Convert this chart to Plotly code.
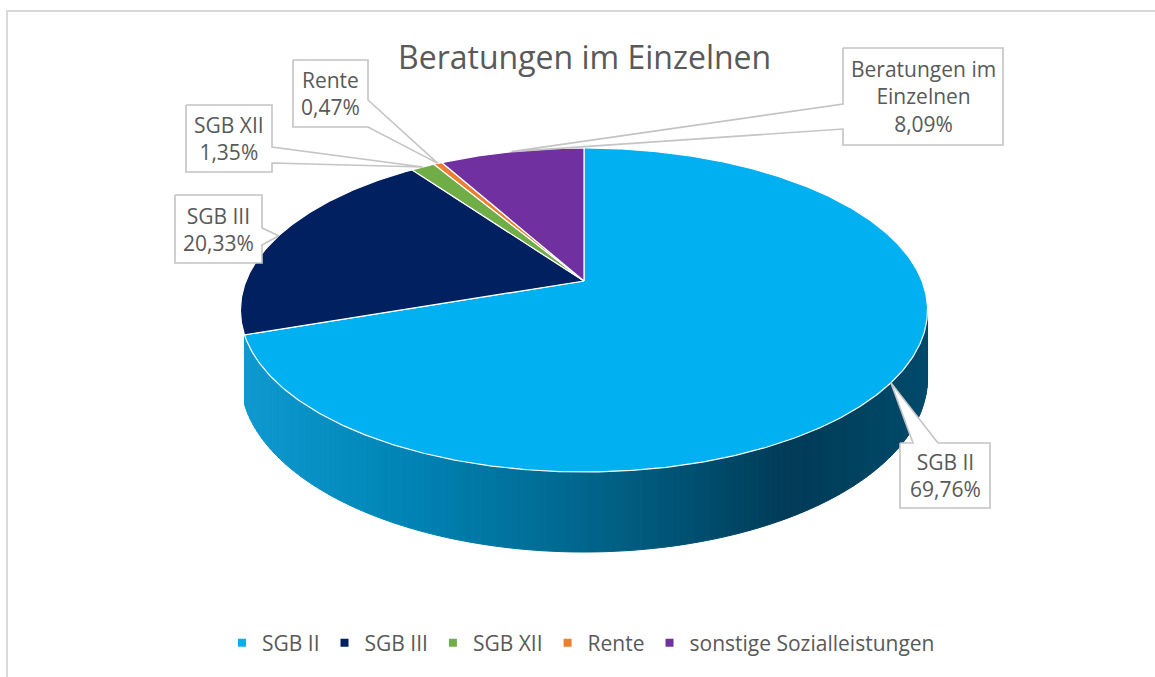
import numpy as np
import plotly.graph_objects as go

# ---------------- data ----------------
categories = ["SGB II", "SGB III", "SGB XII", "Rente", "sonstige Sozialleistungen"]
shares = [69.76, 20.33, 1.35, 0.47, 8.09]
label_titles = ["SGB II", "SGB III", "SGB XII", "Rente", "Beratungen im<br>Einzelnen"]
share_texts = ["69,76%", "20,33%", "1,35%", "0,47%", "8,09%"]
colors = ["#00B0F0", "#002060", "#70AD47", "#ED7D31", "#7030A0"]
side_colors = [None, "#00163F", "#4E7A31", "#A65722", "#4E2170"]
chart_title = "Beratungen im Einzelnen"

# ---------------- geometry (perspective projection of the disc) ----------------
W, H = 1155, 677
CX = 584.0
A_, B_, C_, K_ = 281.0, -106.5, 0.179, 338.0
DEPTH = 65.7
TXT = "#595959"
FONT = "Open Sans"


def proj(theta_deg, drop=0.0):
    t = np.radians(theta_deg)
    u, v = np.sin(t), np.cos(t)
    den = 1 + C_ * v
    return CX + K_ * u / den, (A_ + B_ * v + drop) / den


total = float(sum(shares))
cum = np.concatenate([[0.0], np.cumsum(shares)]) / total * 360.0
starts, ends = cum[:-1], cum[1:]
mids = (starts + ends) / 2

fig = go.Figure()

# ---------------- side wall ----------------
ths = np.linspace(0, 360, 3601)
xs_all, _ = proj(ths)
th_right = ths[np.argmax(xs_all)]
th_left = min(ths[np.argmin(xs_all)], ends[0])
xmin, xmax = xs_all.min(), xs_all.max()

stops = [(0.0, (14, 154, 208)), (0.25, (0, 131, 180)), (0.5, (0, 102, 140)),
         (0.8, (0, 59, 87)), (1.0, (0, 74, 107))]


def grad(f):
    for (p0, c0), (p1, c1) in zip(stops[:-1], stops[1:]):
        if f <= p1:
            t = (f - p0) / (p1 - p0) if p1 > p0 else 0
            c = [int(round(a + (b - a) * t)) for a, b in zip(c0, c1)]
            return "rgb(%d,%d,%d)" % tuple(c)
    return "rgb(%d,%d,%d)" % stops[-1][1]


edges = np.linspace(th_right, th_left, 140)
for a0, a1 in zip(edges[:-1], edges[1:]):
    m = (a0 + a1) / 2
    idx = int(np.searchsorted(ends, m))
    xa0, ya0 = proj(a0)
    xa1, ya1 = proj(a1)
    xb1, yb1 = proj(a1, DEPTH)
    xb0, yb0 = proj(a0, DEPTH)
    if idx == 0:
        f = ((xa0 + xa1) / 2 - xmin) / (xmax - xmin)
        col = grad(f)
    else:
        col = side_colors[idx]
    fig.add_trace(go.Scatter(x=[xa0, xa1, xb1, xb0, xa0], y=[ya0, ya1, yb1, yb0, ya0],
                             mode="lines", fill="toself", fillcolor=col,
                             line=dict(color=col, width=1), hoverinfo="skip",
                             showlegend=False))

# ---------------- top face slices ----------------
for i, cat in enumerate(categories):
    n = max(3, int((ends[i] - starts[i]) * 2))
    arc = np.linspace(starts[i], ends[i], n)
    ax, ay = proj(arc)
    xs = [CX] + list(ax) + [CX]
    ys = [A_] + list(ay) + [A_]
    fig.add_trace(go.Scatter(x=xs, y=ys, mode="lines", fill="toself",
                             fillcolor=colors[i], line=dict(color="white", width=1.2),
                             hoverinfo="skip", showlegend=False))

# ---------------- callouts ----------------
boxes = {
    0: ((900, 443, 990, 508), "top", (913, 938)),
    1: ((175, 195, 262, 263), "right", (228, 245)),
    2: ((186, 105, 272, 172), "right", (147, 163)),
    3: ((293, 60, 368, 127), "right", (100, 127)),
    4: ((843, 48, 1003, 145), "left", (104, 129)),
}
for i in range(len(categories)):
    (x0, y0, x1, y1), side, (b0, b1) = boxes[i]
    tx, ty = proj(mids[i])
    if side == "right":
        px = [x0, x1, x1, tx, x1, x1, x0, x0]
        py = [y0, y0, b0, ty, b1, y1, y1, y0]
    elif side == "left":
        px = [x0, x1, x1, x0, x0, tx, x0, x0]
        py = [y0, y0, y1, y1, b1, ty, b0, y0]
    else:
        px = [x0, b0, tx, b1, x1, x1, x0, x0]
        py = [y0, y0, ty, y0, y0, y1, y1, y0]
    fig.add_trace(go.Scatter(x=px, y=py, mode="lines", fill="toself", fillcolor="white",
                             line=dict(color="#C4C4C4", width=1.6), hoverinfo="skip",
                             showlegend=False))
    fig.add_annotation(x=(x0 + x1) / 2, y=(y0 + y1) / 2, xref="x", yref="y",
                       text=label_titles[i] + "<br>" + share_texts[i], showarrow=False,
                       font=dict(family=FONT, size=21, color=TXT), align="center")

# ---------------- legend ----------------
for i, cat in enumerate(categories):
    fig.add_trace(go.Scatter(x=[None], y=[None], mode="markers", name=cat,
                             marker=dict(symbol="square", size=8, color=colors[i]),
                             hoverinfo="skip", showlegend=True))

fig.add_annotation(x=584.5, y=56, xref="x", yref="y", text=chart_title, showarrow=False,
                   font=dict(family=FONT, size=32, color=TXT))

fig.add_shape(type="rect", xref="x", yref="y", x0=7, y0=11, x1=1170, y1=700,
              line=dict(color="#D9D9D9", width=2), layer="below")

fig.update_layout(
    width=W, height=H, margin=dict(l=0, r=0, t=0, b=0),
    paper_bgcolor="white", plot_bgcolor="white",
    xaxis=dict(range=[0, W], visible=False, fixedrange=True),
    yaxis=dict(range=[H, 0], visible=False, fixedrange=True),
    legend=dict(orientation="h", x=0.503, xanchor="center", y=1 - 643 / H, yanchor="middle",
                font=dict(family=FONT, size=21, color=TXT), itemwidth=30,
                bgcolor="rgba(0,0,0,0)"),
    font=dict(family=FONT, color=TXT),
)

fig.write_html("out.html", config={"displayModeBar": False},
               post_script="document.body.style.margin='0';")
